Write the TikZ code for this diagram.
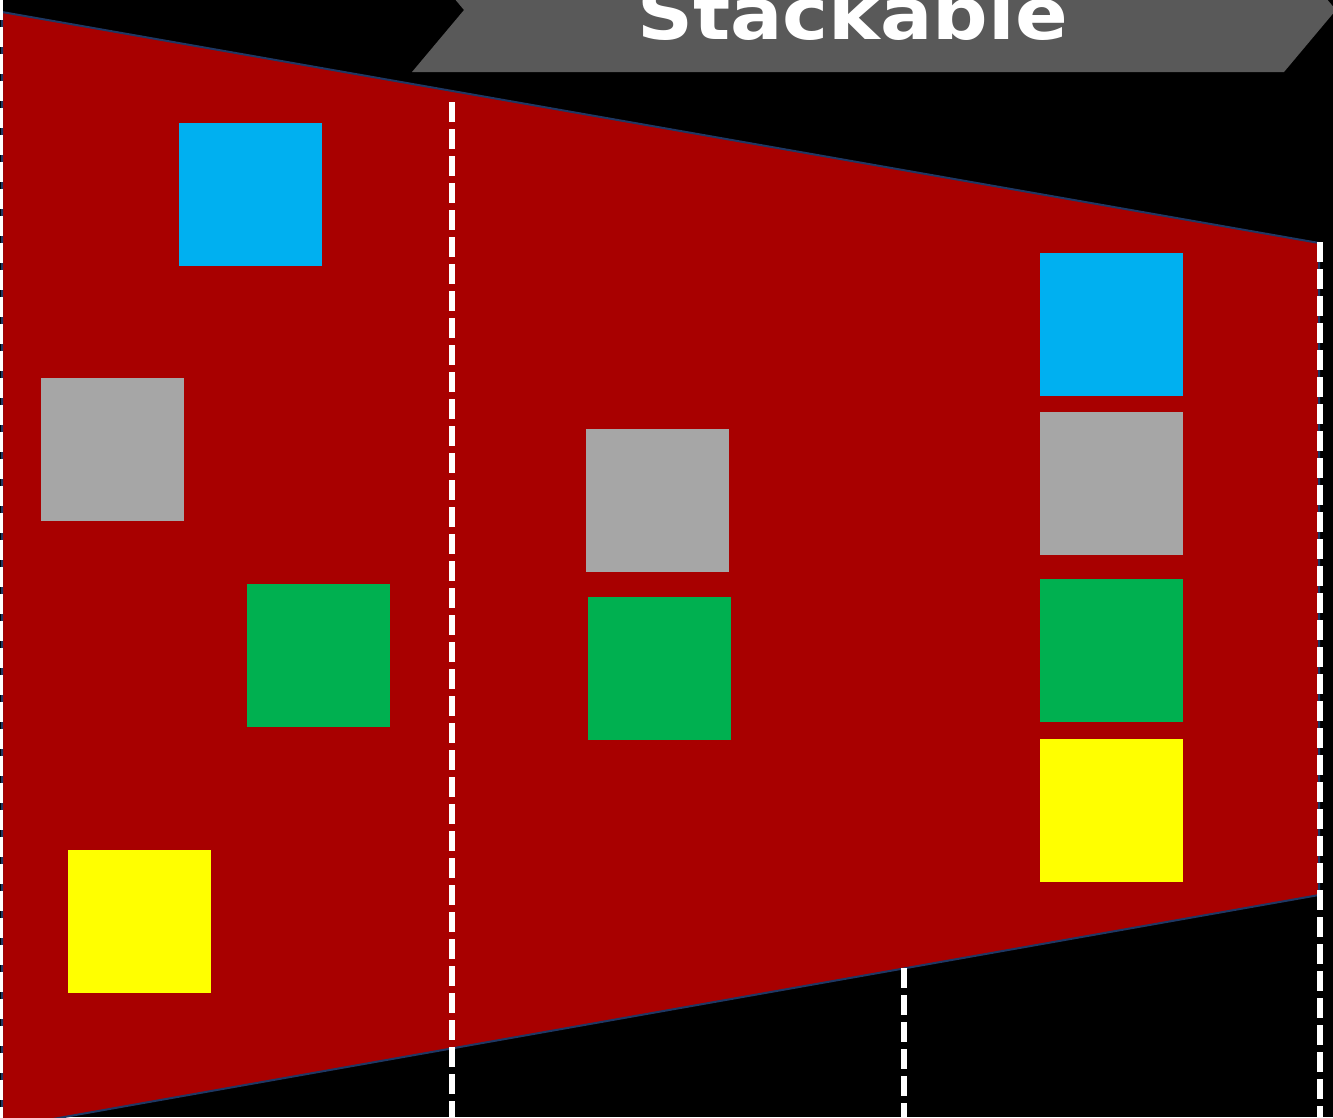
\documentclass[tikz,border=0pt]{standalone}
\usepackage{fontspec}
\newfontfamily\bannerfont{DejaVu Sans}
\definecolor{redfill}{RGB}{168,0,0}
\definecolor{navyline}{RGB}{31,56,100}
\definecolor{bannergray}{RGB}{89,89,89}
\definecolor{sqblue}{RGB}{0,176,240}
\definecolor{sqgray}{RGB}{166,166,166}
\definecolor{sqgreen}{RGB}{0,176,80}
\definecolor{sqyellow}{RGB}{255,255,0}
\tikzset{
  sq/.style={draw=none, inner sep=0pt, minimum size=143pt, fill=#1},
  divider/.style={draw=white, line width=6pt, dash pattern=on 20pt off 7pt},
}
\begin{document}
\begin{tikzpicture}[x=1pt,y=-1pt]
\useasboundingbox (0,0) rectangle (1333,1117);
\clip (0,0) rectangle (1333,1117);
\fill[black] (0,0) rectangle (1333,1117);
% trapezoid
\coordinate (tl) at (2,12);
\coordinate (tr) at (1319,243);
\coordinate (br) at (1319,895);
\coordinate (bl) at (2,1128);
\filldraw[fill=redfill, draw=navyline, line width=2pt] (tl) -- (tr) -- (br) -- (bl) -- cycle;
% dividers
\coordinate (d0a) at (0,0);     \coordinate (d0b) at (0,1120);
\coordinate (d1a) at (452,102); \coordinate (d1b) at (452,1120);
\coordinate (d2a) at (904,968); \coordinate (d2b) at (904,1120);
\coordinate (d3a) at (1320,242);\coordinate (d3b) at (1320,1120);
\draw[divider] (d0a) -- (d0b);
\draw[divider] (d1a) -- (d1b);
\draw[divider] (d2a) -- (d2b);
\draw[divider] (d3a) -- (d3b);
% banner
\fill[bannergray] (412,72) -- (464,10) -- (412,-52) -- (1284,-52) -- (1336,10) -- (1284,72) -- cycle;
\node[anchor=base, text=white, inner sep=0pt, font=\bannerfont\bfseries\fontsize{72}{72}\selectfont] (title) at (852.5,39) {\scalebox{1.08}[1]{Stackable}};
% squares
\node[sq=sqblue]   (bL) at (250.5,194.5) {};
\node[sq=sqgray]   (gL) at (112.5,449.5) {};
\node[sq=sqgreen]  (nL) at (318.5,655.5) {};
\node[sq=sqyellow] (yL) at (139.5,921.5) {};
\node[sq=sqgray]   (gM) at (657.5,500.5) {};
\node[sq=sqgreen]  (nM) at (659.5,668.5) {};
\node[sq=sqblue]   (bR) at (1111.5,324.5) {};
\node[sq=sqgray]   (gR) at (1111.5,483.5) {};
\node[sq=sqgreen]  (nR) at (1111.5,650.5) {};
\node[sq=sqyellow] (yR) at (1111.5,810.5) {};
\end{tikzpicture}
\end{document}
